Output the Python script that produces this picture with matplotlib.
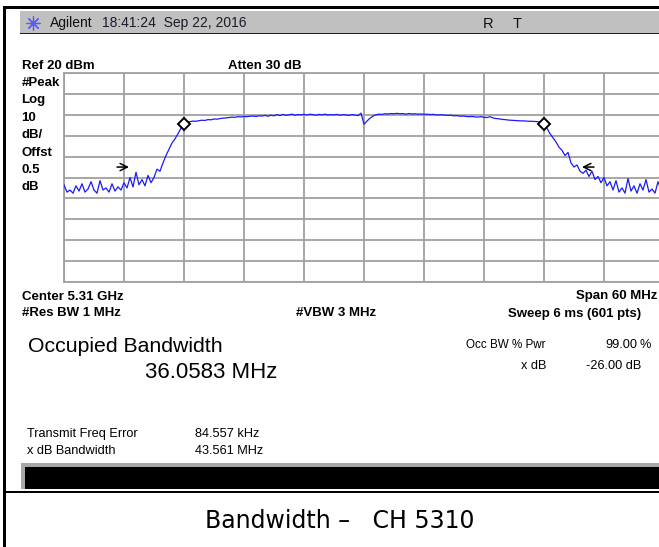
import numpy as np
import matplotlib
matplotlib.use("Agg")
import matplotlib.pyplot as plt
from matplotlib.patches import Rectangle

# ---------------- data ----------------
center_ghz = 5.31
span_mhz = 60
ref_dbm = 20
db_per_div = 10
n_div = 10

# trace level (dBm), sweep points every 0.3 MHz from -30 MHz to +30 MHz (offset from centre)
level_dbm = [
    -33.5, -37.0, -36.0, -37.5, -34.0, -36.5, -33.0, -37.0, -35.5, -32.0,
    -36.0, -37.5, -31.5, -36.0, -35.0, -37.0, -33.0, -36.5, -34.5, -36.0,
    -32.5, -35.0, -30.0, -34.5, -27.5, -33.5, -31.0, -34.0, -29.0, -32.5,
    -30.0, -26.0, -27.0, -23.0, -19.5, -16.5, -13.5, -11.5, -9.0, -6.5,
    -4.3, -3.5, -3.3, -3.0, -3.1, -2.8, -2.6, -2.7, -2.3, -2.4,
    -2.0, -2.1, -1.8, -1.6, -1.5, -1.3, -1.1, -1.2, -0.9, -1.0,
    -0.8, -0.9, -0.7, -0.6, -0.8, -0.5, -0.6, -0.3, -0.7, -0.2,
    -0.5, 0.1, -0.4, 0.2, -0.3, 0.0, 0.3, -0.2, 0.1, 0.0,
    0.2, -0.1, 0.3, 0.1, -0.2, 0.2, 0.0, 0.3, -0.1, 0.1,
    0.0, 0.2, -0.2, 0.1, 0.0, -0.3, 0.1, -0.1, -0.4, 0.8,
    -4.5, -3.0, -1.6, -0.6, 0.0, 0.3, 0.2, 0.5, 0.4, 0.6,
    0.5, 0.7, 0.5, 0.6, 0.3, 0.6, 0.4, 0.5, 0.3, 0.4,
    0.2, 0.3, 0.1, 0.2, 0.0, -0.1, 0.1, -0.2, -0.3, -0.2,
    -0.5, -0.4, -0.7, -0.6, -0.8, -0.9, -0.8, -1.0, -1.1, -0.9,
    -1.2, -1.3, -0.9, -1.5, -1.8, -1.9, -2.2, -2.3, -2.5, -2.6,
    -2.7, -2.8, -2.9, -2.9, -3.0, -3.1, -3.1, -3.2, -3.3, -3.6,
    -4.4, -6.5, -9.0, -11.0, -13.0, -15.5, -17.0, -19.5, -18.0, -23.0,
    -25.0, -24.0, -27.0, -28.0, -26.5, -29.5, -27.0, -31.0, -29.5, -32.5,
    -30.0, -34.0, -32.0, -36.0, -31.5, -37.0, -35.0, -37.5, -30.5, -36.5,
    -34.0, -37.5, -33.0, -36.0, -31.0, -37.0, -35.5, -37.5, -32.0, -36.0,
    -35.0,
]
freq_offset_mhz = np.linspace(-span_mhz / 2, span_mhz / 2, len(level_dbm))

marker_offsets_mhz = [-18.0, 18.0]
marker_levels_dbm = [-4.3, -4.4]

xdb_arrow_tips_mhz = [-23.5, 21.8]
xdb_arrow_tails_mhz = [-24.7, 23.0]
xdb_arrow_level_dbm = -25.0

header_left = ["Agilent", "18:41:24  Sep 22, 2016"]
left_labels = ["#Peak", "Log", "10", "dB/", "Offst", "0.5", "dB"]

# ---------------- figure ----------------
W, H = 659, 547
fig = plt.figure(figsize=(W / 100, H / 100), dpi=100)
fig.patch.set_facecolor("white")

bg = fig.add_axes([0, 0, 1, 1])
bg.set_xlim(0, W)
bg.set_ylim(H, 0)
bg.axis("off")

FONT = "Liberation Sans"

# outer frame
bg.add_patch(Rectangle((3, 6), W, 2.5, color="black", lw=0))
bg.add_patch(Rectangle((3, 6), 3, H, color="black", lw=0))
# header bar
bg.add_patch(Rectangle((20, 11), W - 20, 22, color="#c0c0c0", lw=0))
bg.add_patch(Rectangle((20, 32.5), W - 20, 1.6, color="#202020", lw=0))
bg.scatter([33], [22.5], marker=(8, 2, 0), s=90, color="#5a5aff", lw=0.9)
bg.text(50, 27.5, header_left[0], fontsize=10, family=FONT, color="#101010")
bg.text(102, 27.5, header_left[1], fontsize=10, family=FONT, color="#201828")
bg.text(483, 27.5, "R", fontsize=10.5, family=FONT, color="#101010")
bg.text(513, 27.5, "T", fontsize=10.5, family=FONT, color="#101010")

bold = dict(fontsize=9.5, family=FONT, fontweight="bold", color="black")
bg.text(21.5, 69, f"Ref {ref_dbm} dBm", **bold)
bg.text(228, 69, "Atten 30 dB", **bold)
for i, lab in enumerate(left_labels):
    bg.text(21.5, 86 + 17.4 * i, lab, **bold)
bg.text(21.5, 299.5, f"Center {center_ghz} GHz", **bold)
bg.text(657, 299.5, f"Span {span_mhz} MHz", ha="right", **bold)
bg.text(21.5, 316.5, "#Res BW 1 MHz", **bold)
bg.text(296, 316.5, "#VBW 3 MHz", **bold)
bg.text(641, 316.5, "Sweep 6 ms (601 pts)", ha="right", **bold)

big = dict(family=FONT, color="black")
bg.text(28, 351.5, "Occupied Bandwidth", fontsize=15.3, **big)
bg.text(145, 378, "36.0583 MHz", fontsize=16, **big)

small = dict(fontsize=9.2, family=FONT, color="black")
bg.text(546, 348, "Occ BW % Pwr", ha="right", fontsize=8.4, family=FONT, color="black")
bg.text(637, 348, "99.00", ha="right", **small)
bg.text(651, 348, "%", ha="right", **small)
bg.text(546, 369, "x dB", ha="right", **small)
bg.text(641, 369, "-26.00 dB", ha="right", **small)
bg.text(27, 437.3, "Transmit Freq Error", **small)
bg.text(195, 437.3, "84.557 kHz", **small)
bg.text(27, 454, "x dB Bandwidth", **small)
bg.text(195, 454, "43.561 MHz", **small)

# black status bar
bg.add_patch(Rectangle((21, 463), W - 21, 26, color="#a8a8a8", lw=0))
bg.add_patch(Rectangle((25, 467), W - 25, 22, color="black", lw=0))
bg.add_patch(Rectangle((3, 490.7), W, 2.6, color="black", lw=0))

bg.text(205, 528.3, "Bandwidth \u2013   CH 5310", fontsize=17,
        family="DejaVu Sans", color="black")

# ---------------- spectrum graticule ----------------
x0, x1, y0, y1 = 64, 664, 73, 282
ax = fig.add_axes([x0 / W, 1 - y1 / H, (x1 - x0) / W, (y1 - y0) / H])
ax.set_xlim(-span_mhz / 2, span_mhz / 2)
ax.set_ylim(ref_dbm - db_per_div * n_div, ref_dbm)
ax.set_xticks(np.linspace(-span_mhz / 2, span_mhz / 2, n_div + 1))
ax.set_yticks(np.arange(ref_dbm - db_per_div * n_div, ref_dbm + 1, db_per_div))
ax.tick_params(length=0, labelbottom=False, labelleft=False)
ax.grid(True, color="#a0a0a0", lw=1.3)
for s in ax.spines.values():
    s.set_color("#a0a0a0")
    s.set_linewidth(1.3)
ax.set_axisbelow(True)

ax.plot(freq_offset_mhz, level_dbm, color="#1a1aff", lw=0.9, zorder=3)
ax.plot(marker_offsets_mhz, marker_levels_dbm, ls="none", marker="D", ms=6,
        mfc="white", mec="black", mew=1.4, zorder=4)
for tip, tail in zip(xdb_arrow_tips_mhz, xdb_arrow_tails_mhz):
    ax.annotate("", xy=(tip, xdb_arrow_level_dbm), xytext=(tail, xdb_arrow_level_dbm),
                arrowprops=dict(arrowstyle="->", lw=1.1, color="black",
                                shrinkA=0, shrinkB=0, mutation_scale=13), zorder=5)

fig.savefig("out.png", dpi=100)
